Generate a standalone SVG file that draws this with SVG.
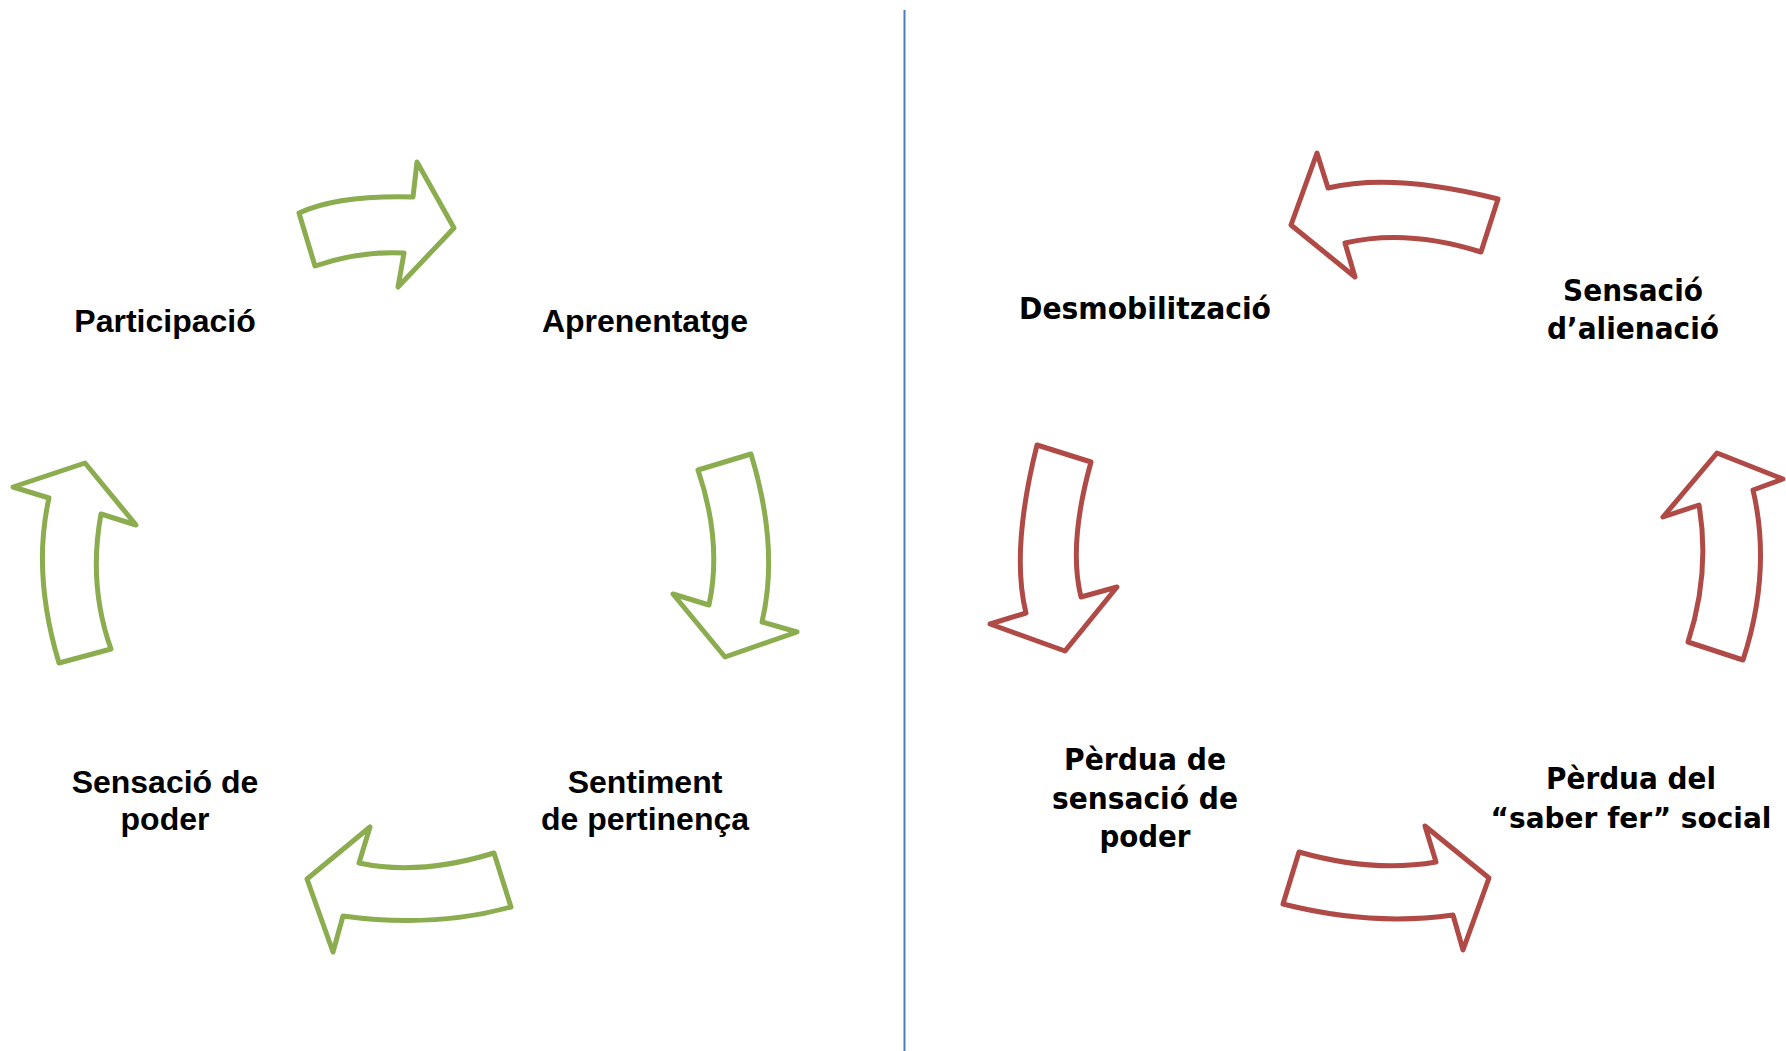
<svg xmlns="http://www.w3.org/2000/svg" width="1786" height="1051" viewBox="0 0 1786 1051">
<style>
.g{fill:#ffffff;stroke:#8BAC4F;stroke-width:5;stroke-linejoin:round}
.r{fill:#ffffff;stroke:#AF4A46;stroke-width:5;stroke-linejoin:round}
.tl{font-family:"Liberation Sans",Arial,sans-serif;font-weight:bold;font-size:32px;fill:#000;text-anchor:middle}
.tr{font-family:"DejaVu Sans",Verdana,sans-serif;font-weight:bold;font-size:31px;fill:#000;text-anchor:middle}
</style>
<rect width="1786" height="1051" fill="#ffffff"/>
<g id="connectors">
<path id="a1" class="g" d="M299,213 Q338,195 413,197 L417,162 L454,228 L398,287 L404,253 Q360.5,250.5 315,266 Z"/>
<path id="a2" class="g" d="M698,470 L751,454 Q779.5,548 762,622 L797,632 L725,657 L673,594 L709,605 Q722.5,542.5 698,470 Z"/>
<path id="a3" class="g" d="M494,853 L511,907 Q433,928.5 343,916 L333,952 L307,879 L370,827 L359,863 Q419.5,876 494,853 Z"/>
<path id="a4" class="g" d="M59,663 L111,649 Q88,584.5 101,514 L136,525 L85,463 L13,487 L49,498 Q32,573.5 59,663 Z"/>
<path id="a5" class="r" d="M1498,199 L1481,252 Q1407,228.5 1345,243 L1355,277 L1291,225 L1317,153 L1328,188 Q1393,172.5 1498,199 Z"/>
<path id="a6" class="r" d="M1037,445 L1091,462 Q1068,544.5 1081,597 L1117,587 L1065,651 L990,624 L1026,613 Q1010.5,551 1037,445 Z"/>
<path id="a7" class="r" d="M1299,852 Q1372.5,873 1436,862 L1425,826 L1489,878 L1463,950 L1453,915 Q1372,926.5 1283,904 Z"/>
<path id="a8" class="r" d="M1688,642 L1743,660 Q1772,571 1753,490 L1783,479 L1717,453 L1663,517 L1699,505 Q1710.5,572.5 1688,642 Z"/>
</g>
<line x1="904.5" y1="10" x2="904.5" y2="1051" stroke="#4A7EBB" stroke-width="2"/>
<g id="participacio"><text class="tl" x="165" y="332">Participació</text></g>
<g id="aprenentatge"><text class="tl" x="645" y="332">Aprenentatge</text></g>
<g id="sentiment"><text class="tl" x="645" y="793">Sentiment</text><text class="tl" x="645" y="830">de pertinença</text></g>
<g id="sensacio-poder"><text class="tl" x="165" y="793">Sensació de</text><text class="tl" x="165" y="830">poder</text></g>
<g id="desmobilitzacio"><text class="tr" x="1145" y="319" textLength="252" lengthAdjust="spacingAndGlyphs">Desmobilització</text></g>
<g id="alienacio"><text class="tr" x="1633" y="301" textLength="140" lengthAdjust="spacingAndGlyphs">Sensació</text><text class="tr" x="1633" y="339" textLength="172" lengthAdjust="spacingAndGlyphs">d’alienació</text></g>
<g id="saber-fer"><text class="tr" x="1631" y="789" textLength="170" lengthAdjust="spacingAndGlyphs">Pèrdua del</text><text class="tr" x="1631" y="828" style="font-size:28px">“saber fer” social</text></g>
<g id="perdua-poder"><text class="tr" x="1145" y="770" textLength="162" lengthAdjust="spacingAndGlyphs">Pèrdua de</text><text class="tr" x="1145" y="809" textLength="186" lengthAdjust="spacingAndGlyphs">sensació de</text><text class="tr" x="1145" y="847" textLength="91" lengthAdjust="spacingAndGlyphs">poder</text></g>
</svg>
